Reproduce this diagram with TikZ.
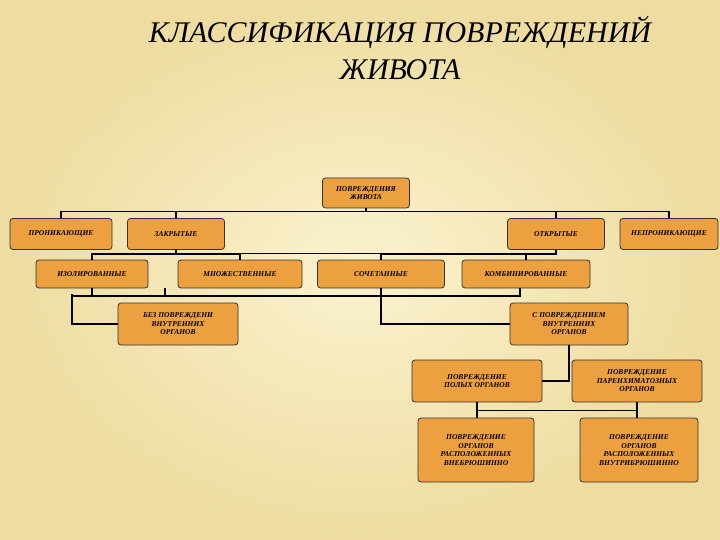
\documentclass[tikz,border=0pt]{standalone}
\usepackage{fontspec}
\setmainfont{Liberation Serif}
\definecolor{boxfill}{HTML}{EDA040}
\definecolor{bgpale}{HTML}{FBF3CF}
\definecolor{bgedge}{HTML}{EEDCA0}
\begin{document}
\begin{tikzpicture}[x=1pt,y=-1pt,
    box/.style={draw=black!80,fill=boxfill,rounded corners=3pt,line width=0.8pt,align=center,
      font=\fontsize{7.5}{8.5}\selectfont\bfseries\itshape,inner sep=1pt},
    link/.style={line width=1.3pt}]
        % background
        \shade[inner color=bgpale,outer color=bgedge] (0,0) rectangle (720,540);
        \useasboundingbox (0,0) rectangle (720,540);
        \node[font=\fontsize{30}{37}\selectfont\itshape,align=center] (title) at (400,48)
            {КЛАССИФИКАЦИЯ ПОВРЕЖДЕНИЙ\\ЖИВОТА};

        % Draw the boxes
        \node[box,minimum width=87,minimum height=30] (root) at (366,193) {ПОВРЕЖДЕНИЯ\\ЖИВОТА};
        \node[box,minimum width=102,minimum height=31] (pron) at (61,234) {ПРОНИКАЮЩИЕ};
        \node[box,minimum width=97,minimum height=31] (zakr) at (176,234) {ЗАКРЫТЫЕ};
        \node[box,minimum width=97,minimum height=31] (otkr) at (556,234) {ОТКРЫТЫЕ};
        \node[box,minimum width=98,minimum height=31] (nepr) at (669,234) {НЕПРОНИКАЮЩИЕ};
        \node[box,minimum width=112,minimum height=28] (izol) at (92,274) {ИЗОЛИРОВАННЫЕ};
        \node[box,minimum width=124,minimum height=28] (mnoz) at (240,274) {МНОЖЕСТВЕННЫЕ};
        \node[box,minimum width=127,minimum height=28] (soch) at (381,274) {СОЧЕТАННЫЕ};
        \node[box,minimum width=128,minimum height=28] (komb) at (526,274) {КОМБИНИРОВАННЫЕ};
        \node[box,minimum width=120,minimum height=42] (bez) at (178,324) {БЕЗ ПОВРЕЖДЕНИ\\ВНУТРЕННИХ\\ОРГАНОВ};
        \node[box,minimum width=118,minimum height=42] (spov) at (569,324) {С ПОВРЕЖДЕНИЕМ\\ВНУТРЕННИХ\\ОРГАНОВ};
        \node[box,minimum width=130,minimum height=42] (poly) at (477,381) {ПОВРЕЖДЕНИЕ\\ПОЛЫХ ОРГАНОВ};
        \node[box,minimum width=130,minimum height=42] (par) at (637,381) {ПОВРЕЖДЕНИЕ\\ПАРЕНХИМАТОЗНЫХ\\ОРГАНОВ};
        \node[box,minimum width=116,minimum height=64] (vne) at (476,450) {ПОВРЕЖДЕНИЕ\\ОРГАНОВ\\РАСПОЛОЖЕННЫХ\\ВНЕБРЮШИННО};
        \node[box,minimum width=118,minimum height=64] (vnu) at (639,450) {ПОВРЕЖДЕНИЕ\\ОРГАНОВ\\РАСПОЛОЖЕННЫХ\\ВНУТРИБРЮШИННО};

        % Connectors
        \draw[link] (root.south) -- ++(0,3) -| (pron.north);
        \draw[link] (root.south) ++(0,3) -| (zakr.north);
        \draw[link] (root.south) ++(0,3) -| (otkr.north);
        \draw[link] (root.south) ++(0,3) -| (nepr.north);
        \draw[link] (zakr.south) -- ++(0,4) -| (izol.north);
        \draw[link] (zakr.south) ++(0,4) -| (mnoz.north);
        \draw[link] (mnoz.north) ++(0,-6) -- ++(141,0);
        \draw[link] (otkr.south) -- ++(0,4) -| (soch.north);
        \draw[link] (otkr.south) ++(0,4) -| (komb.north);
        \coordinate (hub) at (72,296);
        \draw[link] (hub) -- (520,296) -- (komb.south -| 520,0);
        \draw[link] (hub) ++(0,-2) |- (bez.west);
        \draw[link] (izol.south) -- (izol.south |- hub);
        \draw[link] (165,288) -- (165,296);
        \draw[link] (soch.south) |- (spov.west);
        \draw[link] (spov.south) |- (poly.east);
        \draw[link] (spov.south) -- (spov.south |- par.west);
        \draw[link] (poly.south) -- (vne.north -| poly.south);
        \draw[link] (poly.south) ++(0,8) -| (par.south);
        \draw[link] (par.south) -- (vnu.north -| par.south);
\end{tikzpicture}
\end{document}
